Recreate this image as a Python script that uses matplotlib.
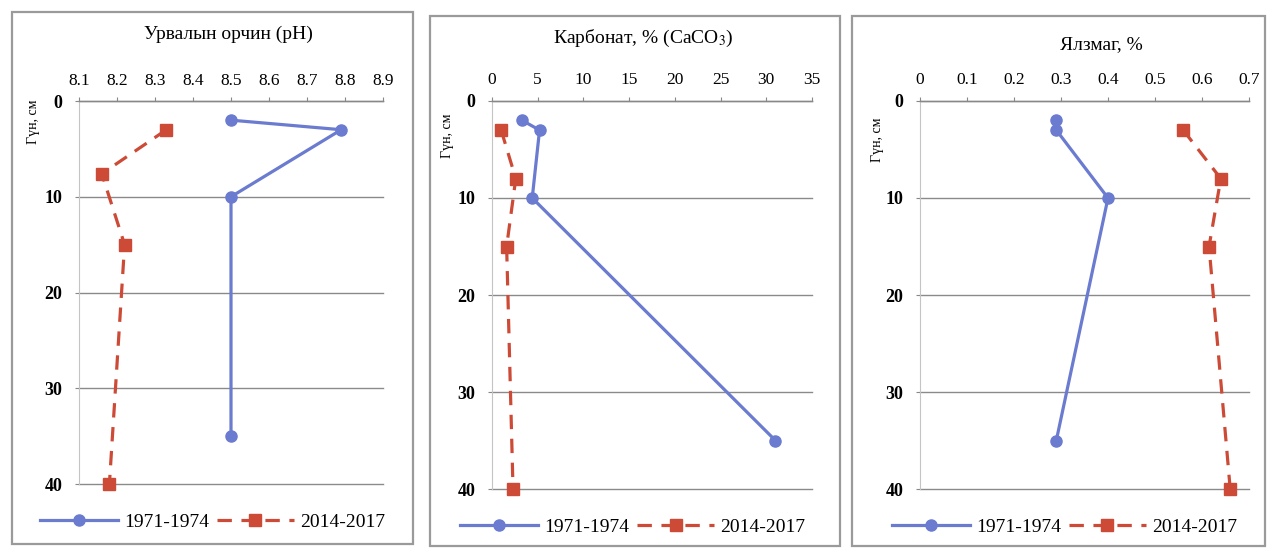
import numpy as np
import matplotlib.pyplot as plt
from matplotlib.patches import Rectangle

plt.rcParams['font.family'] = ['Liberation Serif', 'DejaVu Serif']
plt.rcParams['mathtext.fontset'] = 'stix'

W, H = 1269, 549

# ----------------------- data -----------------------
depth_old = [2, 3, 10, 35]
depth_new_ph = [3, 7.6, 15, 40]
depth_new = [3, 8, 15, 40]

ph_old = [8.5, 8.79, 8.5, 8.5]
ph_new = [8.33, 8.16, 8.22, 8.18]

carb_old = [3.3, 5.2, 4.4, 31.0]
carb_new = [1.0, 2.6, 1.6, 2.3]

hum_old = [0.29, 0.29, 0.40, 0.29]
hum_new = [0.56, 0.64, 0.615, 0.66]

titles = ['Урвалын орчин (pH)', 'Карбонат, % (CaCO$_3$)', 'Ялзмаг, %']
xticks = [np.round(np.arange(8.1, 8.91, 0.1), 1),
          np.arange(0, 36, 5),
          np.round(np.arange(0, 0.71, 0.1), 1)]
xlims = [(8.1, 8.9), (0, 35), (0, 0.7)]
labels = ['1971-1974', '2014-2017']

blue = '#6a7bd0'
red = '#cc4a36'

# ----------------------- layout (pixels) -----------------------
# axes: left, right, top, bottom
ax_px = [(79, 383, 101, 484), (492, 812, 101, 489), (920, 1249, 101, 489)]
box_px = [(12, 413, 12, 544), (430, 840, 16, 546), (852, 1265, 16, 546)]
title_px = [(228, 34), (643, 38), (1101, 45)]
ylab_px = [(34, 122), (448, 136), (877, 140)]

fig = plt.figure(figsize=(W / 100, H / 100), dpi=100)

for (x0, x1, y0, y1) in box_px:
    fig.patches.append(Rectangle((x0 / W, 1 - y1 / H), (x1 - x0) / W, (y1 - y0) / H,
                                 transform=fig.transFigure, fill=False,
                                 edgecolor='#9a9a9a', lw=1.6))

data = [(ph_old, ph_new, depth_new_ph), (carb_old, carb_new, depth_new), (hum_old, hum_new, depth_new)]

for i in range(3):
    x0, x1, y0, y1 = ax_px[i]
    ax = fig.add_axes([x0 / W, 1 - y1 / H, (x1 - x0) / W, (y1 - y0) / H])
    old, new, dnew = data[i]
    ax.plot(old, depth_old, color=blue, lw=2.3, marker='o', ms=8, label=labels[0],
            zorder=3, clip_on=False)
    ax.plot(new, dnew, color=red, lw=2.3, marker='s', ms=8, dashes=(4.5, 3), label=labels[1],
            zorder=3, clip_on=False)

    ax.set_xlim(*xlims[i])
    ax.set_ylim(40, 0)
    ax.set_xticks(xticks[i])
    ax.set_xticklabels(['%g' % v for v in xticks[i]])
    ax.set_yticks([0, 10, 20, 30, 40])
    ax.xaxis.tick_top()
    ax.tick_params(axis='x', direction='out', length=3, color='#888888', labelsize=12.5, pad=6)
    ax.tick_params(axis='y', direction='out', length=3, color='#888888', labelsize=13, pad=9)
    for t in ax.get_yticklabels():
        t.set_fontweight('bold')
    for s in ['right', 'bottom']:
        ax.spines[s].set_visible(False)
    ax.spines['left'].set_color('#c4c4c4')
    ax.spines['left'].set_linewidth(0.8)
    ax.spines['top'].set_color('#888888')
    ax.spines['top'].set_linewidth(1)
    ax.grid(axis='y', color='#8a8a8a', lw=1)
    for gl in ax.yaxis.get_gridlines():
        gl.set_clip_on(False)
    ax.set_axisbelow(True)
    ax.patch.set_alpha(0)

    ax.legend(loc='upper center', bbox_to_anchor=(0.44, -0.03), ncol=2, frameon=False,
              fontsize=14, handlelength=4.0, columnspacing=0.4, handletextpad=0.3)

    tx, ty = title_px[i]
    fig.text(tx / W, 1 - ty / H, titles[i], ha='center', va='center', fontsize=14)
    lx, ly = ylab_px[i]
    fig.text(lx / W, 1 - ly / H, 'Гүн, см', ha='center', va='center', rotation=90, fontsize=10)

fig.savefig('out.png', dpi=100, facecolor='white')
